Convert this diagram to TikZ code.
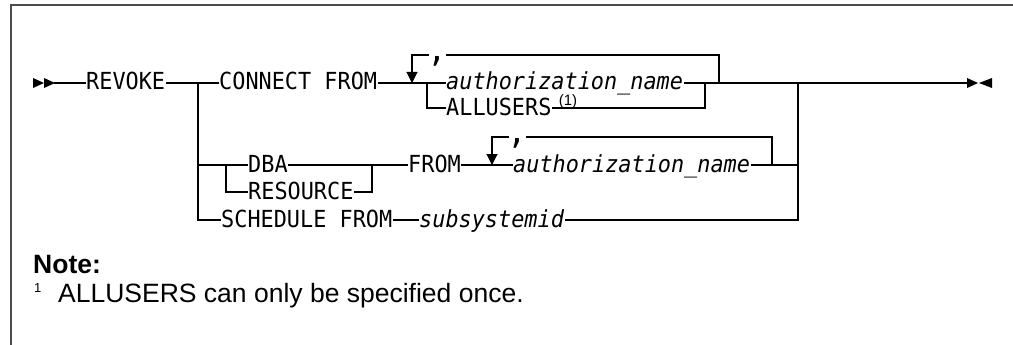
\documentclass[tikz,border=0pt]{standalone}
\usepackage{fontspec}
\setmainfont{Liberation Sans}
\newfontfamily\railfont[FakeStretch=0.93]{DejaVu Sans Mono}
\usetikzlibrary{arrows.meta}

\begin{document}
\begin{tikzpicture}[x=1pt, y=-1pt, rail/.style={line width=1.1pt, line cap=rect}, rep/.style={rail, -{Triangle[length=11pt, width=11pt]}}, kw/.style={anchor=west, inner xsep=1pt, inner ysep=0pt, text height=14pt, text depth=0pt, font=\railfont\fontsize{23.5}{28}\selectfont}, var/.style={kw, font=\railfont\itshape\fontsize{23.5}{28}\selectfont}, sep/.style={inner sep=0pt, font=\railfont\fontsize{34}{34}\selectfont}, ref/.style={anchor=south west, inner sep=0pt, font=\fontsize{13}{13}\selectfont}, note/.style={anchor=base west, inner sep=0pt, font=\fontsize{26.5}{30}\selectfont}]

\useasboundingbox (0,0) rectangle (1013,345);
\draw[line width=2pt, black!70] (11,345) -- (11,5) -- (1013,5);

\foreach \x in {33,44} \fill (\x,78) -- ++(11,5) -- ++(-11,5) -- cycle;
\fill (967,78) -- (978,83) -- (967,88) -- cycle;
\fill (992,78) -- (979,83) -- (992,88) -- cycle;

\coordinate (start) at (55,83); \coordinate (stop) at (967,83);
\coordinate (ja) at (198,83); \coordinate (jb) at (798,83);
\coordinate (jc) at (427,83); \coordinate (jd) at (705,83);
\coordinate (jdba) at (226,165); \coordinate (jres) at (372,165);
\coordinate (l1a) at (412,83); \coordinate (l1b) at (719,83);
\coordinate (l2a) at (492,165); \coordinate (l2b) at (772,165);
\coordinate (c1w) at (428,55); \coordinate (c1e) at (447,55);
\coordinate (c2w) at (508,137); \coordinate (c2e) at (527,137);

\node[kw] (revoke) at (85,83) {REVOKE};
\node[kw] (connect) at (218,83) {CONNECT FROM};
\node[var] (auth1) at (445,83) {authorization\_name};
\node[kw] (allusers) at (445,108) {ALLUSERS};
\node[ref, anchor=base west, font=\fontsize{15}{15}\selectfont] (fn1) at ([xshift=6pt, yshift=2pt]allusers.east) {(1)};
\node[kw] (dba) at (247,165) {DBA};
\node[kw] (resource) at (247,192) {RESOURCE};
\node[kw] (from2) at (407,165) {FROM};
\node[var] (auth2) at (512,165) {authorization\_name};
\node[kw] (schedule) at (220,220) {SCHEDULE FROM};
\node[var] (subsys) at (418,220) {subsystemid};
\node[sep] (c1) at (437,61) {,};
\node[sep] (c2) at (517,143) {,};

\draw[rail] (start) -- (revoke);
\draw[rail] (revoke) -- (connect);
\draw[rail] (connect) -- (auth1);
\draw[rail] (auth1) -- (stop);
\draw[rail] (jc) |- (allusers);
\draw[rail] (allusers) -| (jd);
\draw[rail] (l1b) |- (c1e);
\draw[rep] (c1w) -| (l1a);

\draw[rail] (ja) |- (dba);
\draw[rail] (jdba) |- (resource);
\draw[rail] (dba) -- (from2);
\draw[rail] (resource) -| (jres);
\draw[rail] (from2) -- (auth2);
\draw[rail] (auth2) -| (jb);
\draw[rail] (l2b) |- (c2e);
\draw[rep] (c2w) -| (l2a);

\draw[rail] (ja) |- (schedule);
\draw[rail] (schedule) -- (subsys);
\draw[rail] (subsys) -| (jb);

\node[note] (notehd) at (33,273) {\textbf{Note:}};
\node[ref, anchor=base west] (fnmark) at (34,292) {1};
\node[note] (fntext) at (58,302) {ALLUSERS can only be specified once.};
\end{tikzpicture}
\end{document}
